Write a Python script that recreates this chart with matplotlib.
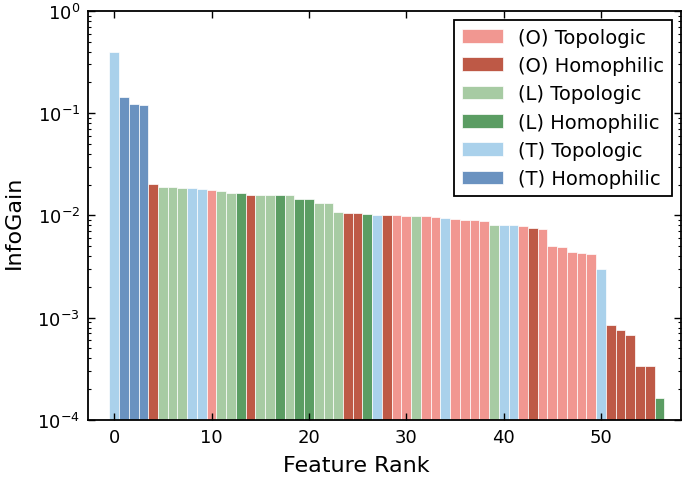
import numpy as np
import matplotlib
matplotlib.use('Agg')
import matplotlib.pyplot as plt
from matplotlib.patches import Patch

# ── Data ─────────────────────────────────────────────────────
# feature groups: (O)/(L)/(T) x Topologic/Homophilic
groups = ['TT', 'TH', 'TH', 'TH', 'OH', 'LT', 'LT', 'LT', 'TT', 'TT',
          'OT', 'LT', 'LT', 'LH', 'OH', 'LT', 'LT', 'LH', 'LT', 'LH',
          'LH', 'LT', 'LT', 'LT', 'OH', 'OH', 'LH', 'TT', 'OH', 'OT',
          'OT', 'LT', 'OT', 'OT', 'TT', 'OT', 'OT', 'OT', 'OT', 'LT',
          'TT', 'TT', 'OT', 'OH', 'OT', 'OT', 'OT', 'OT', 'OT', 'OT',
          'TT', 'OH', 'OH', 'OH', 'OH', 'OH', 'LH']
info_gain = [0.40, 0.145, 0.122, 0.120, 0.0202, 0.0191, 0.0191, 0.0187, 0.0184, 0.0182,
             0.0178, 0.0174, 0.0166, 0.0166, 0.0160, 0.0159, 0.0159, 0.0158, 0.0158, 0.0145,
             0.0145, 0.0133, 0.0133, 0.0108, 0.0106, 0.0106, 0.0103, 0.0102, 0.0102, 0.0100,
             0.0099, 0.0098, 0.0098, 0.0097, 0.0095, 0.0092, 0.0091, 0.0090, 0.0088, 0.0081,
             0.0081, 0.0080, 0.0078, 0.0076, 0.0074, 0.0050, 0.0049, 0.0044, 0.0043, 0.0042,
             0.0030, 0.00085, 0.00076, 0.00068, 0.00034, 0.00034, 0.000165]

legend_keys = ['OT', 'OH', 'LT', 'LH', 'TT', 'TH']
legend_labels = ['(O) Topologic', '(O) Homophilic', '(L) Topologic',
                 '(L) Homophilic', '(T) Topologic', '(T) Homophilic']

C = {'OT': '#F19791', 'OH': '#BE5946', 'LT': '#A7CBA3', 'LH': '#5B9D63',
     'TT': '#AAD1EB', 'TH': '#6A92C0'}

# ── Plot ─────────────────────────────────────────────────────
plt.rcParams['font.family'] = 'DejaVu Sans'
plt.rcParams['axes.unicode_minus'] = False
fig = plt.figure(figsize=(6.85, 4.81), dpi=100)
ax = fig.add_axes([0.129, 0.125, 0.865, 0.85])

x = np.arange(len(info_gain))
ax.bar(x, info_gain, width=1.0,
       color=[C[g] for g in groups], edgecolor='white', linewidth=0.5)
ax.set_yscale('log')
ax.set_ylim(1e-4, 1)
ax.set_xlim(-2.65, 58.2)
ax.set_xticks(np.arange(0, 60, 10))

ax.set_xlabel('Feature Rank', fontsize=16)
ax.xaxis.set_label_coords(0.453, -0.087)
ax.set_ylabel('InfoGain', fontsize=16)
ax.yaxis.set_label_coords(-0.108, 0.485)
ax.tick_params(which='both', direction='in', top=True, right=True, labelsize=13)
ax.tick_params(which='major', length=5, width=1, pad=6)
ax.tick_params(which='minor', length=2.5, width=0.8)
for s in ax.spines.values():
    s.set_linewidth(1.3)

handles = [Patch(facecolor=C[k], edgecolor='white', linewidth=0.5) for k in legend_keys]
leg = ax.legend(handles, legend_labels, loc='upper right', fontsize=14,
                fancybox=False, framealpha=1, edgecolor='black',
                handlelength=2.1, labelspacing=0.48, borderaxespad=0.45)
leg.get_frame().set_linewidth(1.3)

plt.savefig('out.png', dpi=100, facecolor='white')
